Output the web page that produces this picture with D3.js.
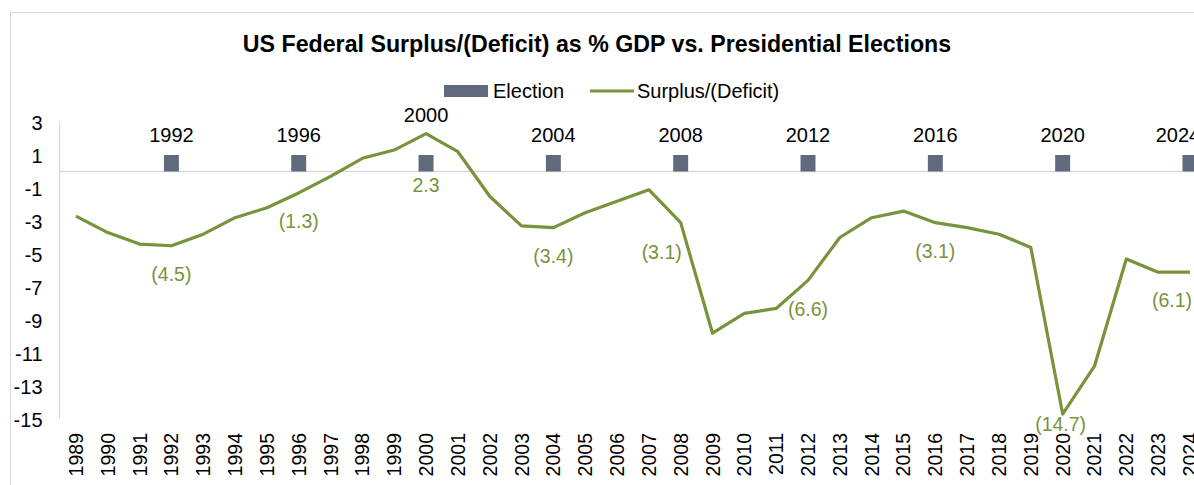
<!DOCTYPE html>
<html>
<head>
<meta charset="utf-8">
<script src="https://cdn.jsdelivr.net/npm/d3@7/dist/d3.min.js"></script>
<style>
  html, body { margin: 0; padding: 0; background: #fff; }
  svg { display: block; font-family: "Liberation Sans", Arial, sans-serif; }
</style>
</head>
<body>
<svg id="chart" width="1194" height="485"></svg>
<script>
// Fiscal years on the category axis
const years = [1989,1990,1991,1992,1993,1994,1995,1996,1997,1998,1999,2000,2001,2002,2003,2004,2005,2006,
               2007,2008,2009,2010,2011,2012,2013,2014,2015,2016,2017,2018,2019,2020,2021,2022,2023,2024];
// Federal surplus / (deficit) as % of GDP
const balance = [-2.7,-3.7,-4.4,-4.5,-3.8,-2.8,-2.2,-1.3,-0.3,0.8,1.3,2.3,1.2,-1.5,-3.3,-3.4,-2.5,-1.8,
                 -1.1,-3.1,-9.8,-8.6,-8.3,-6.6,-4.0,-2.8,-2.4,-3.1,-3.4,-3.8,-4.6,-14.7,-11.8,-5.3,-6.1,-6.1];
// Presidential election years (drawn as unit-height bars)
const electionYears = [1992,1996,2000,2004,2008,2012,2016,2020,2024];
const electionValue = 1;
// Value axis ticks
const yTicks = [3,1,-1,-3,-5,-7,-9,-11,-13,-15];

// Label nudges (px) for the election-year value labels and year captions
const valueLabelNudge = { 2000: {dx: 0, dy: 51.5}, 2008: {dx: -19, dy: 29}, 2020: {dx: -2, dy: 10}, 2024: {dx: -18, dy: 28} };
const yearLabelNudge = { 2000: {dx: 0, dy: -20}, 2024: {dx: -12, dy: 0} };

const svg = d3.select("#chart");
const green = "#77933c";
const slate = "#5f6b7d";
const fontSize = 20;

// Outer frame
svg.append("rect").attr("x", 10.5).attr("y", 12.5).attr("width", 1300).attr("height", 600)
  .attr("fill", "#fff").attr("stroke", "#d9d9d9").attr("stroke-width", 1);

// Plot area
const left = 60, bandW = 31.83;
const x = d3.scaleBand().domain(years).range([left, left + bandW * years.length]).paddingInner(0.53).paddingOuter(0.265);
const cx = d => left + bandW * (years.indexOf(d) + 0.5);
const y = d3.scaleLinear().domain([-15, 3]).range([419, 122]);

// Title
svg.append("text").attr("x", 597).attr("y", 52).attr("text-anchor", "middle")
  .attr("font-size", 23.2).attr("font-weight", "bold").attr("fill", "#000")
  .text("US Federal Surplus/(Deficit) as % GDP vs. Presidential Elections");

// Legend
const lg = svg.append("g");
lg.append("rect").attr("x", 444).attr("y", 85).attr("width", 44).attr("height", 12).attr("fill", slate);
lg.append("text").attr("x", 493).attr("y", 98).attr("font-size", fontSize).text("Election");
lg.append("line").attr("x1", 590).attr("x2", 634).attr("y1", 91).attr("y2", 91)
  .attr("stroke", green).attr("stroke-width", 3);
lg.append("text").attr("x", 637).attr("y", 98).attr("font-size", fontSize).text("Surplus/(Deficit)");

// Value axis (plain hyphen for negatives)
const yAxis = d3.axisLeft(y).tickValues(yTicks).tickSize(0).tickPadding(0).tickFormat(d => String(d));
const yg = svg.append("g").attr("transform", `translate(${left - 17.5},0)`).call(yAxis);
yg.select(".domain").remove();
yg.selectAll("text").attr("font-size", fontSize).attr("fill", "#000").attr("font-family", "Liberation Sans, Arial, sans-serif").attr("dy", "0.35em");

svg.append("line").attr("x1", left - 0.5).attr("x2", left - 0.5).attr("y1", y(3)).attr("y2", y(-15))
  .attr("stroke", "#d9d9d9").attr("stroke-width", 1.2);

// Zero line
svg.append("line").attr("x1", left).attr("x2", 1300).attr("y1", y(0)).attr("y2", y(0))
  .attr("stroke", "#d9d9d9").attr("stroke-width", 1.5);

// Category axis (rotated year labels)
const xAxis = d3.axisBottom(x).tickSize(0).tickPadding(0);
const xg = svg.append("g").attr("transform", `translate(0,433)`).call(xAxis);
xg.select(".domain").remove();
xg.selectAll("text")
  .attr("font-size", 19.5).attr("fill", "#000").attr("font-family", "Liberation Sans, Arial, sans-serif")
  .attr("text-anchor", "end").attr("dy", null).attr("y", 0)
  .attr("transform", "rotate(-90)").attr("dx", 0).attr("x", 0)
  .attr("dominant-baseline", "central");

// Election bars
svg.append("g").selectAll("rect").data(electionYears).join("rect")
  .attr("x", d => x(d)).attr("width", x.bandwidth())
  .attr("y", y(electionValue)).attr("height", y(0) - y(electionValue))
  .attr("fill", slate);

// Election year captions
svg.append("g").selectAll("text").data(electionYears).join("text")
  .attr("x", d => cx(d) + ((yearLabelNudge[d] || {}).dx || 0))
  .attr("y", d => y(electionValue) - 13 + ((yearLabelNudge[d] || {}).dy || 0))
  .attr("text-anchor", "middle").attr("font-size", fontSize).attr("fill", "#000")
  .text(d => d);

// Surplus / deficit line
const line = d3.line().x((d, i) => cx(years[i])).y(d => y(d));
svg.append("path").datum(balance).attr("d", line)
  .attr("fill", "none").attr("stroke", green).attr("stroke-width", 3.2).attr("stroke-linejoin", "round");

// Value labels at election years
const fmt = v => v < 0 ? `(${d3.format(".1f")(-v)})` : d3.format(".1f")(v);
svg.append("g").selectAll("text").data(electionYears).join("text")
  .attr("x", d => cx(d) + ((valueLabelNudge[d] || {}).dx || 0))
  .attr("y", d => y(balance[years.indexOf(d)]) + ((valueLabelNudge[d] || {}).dy ?? 28.5))
  .attr("text-anchor", "middle").attr("dominant-baseline", "central")
  .attr("font-size", 19.5).attr("fill", green)
  .text(d => fmt(balance[years.indexOf(d)]));
</script>
</body>
</html>
